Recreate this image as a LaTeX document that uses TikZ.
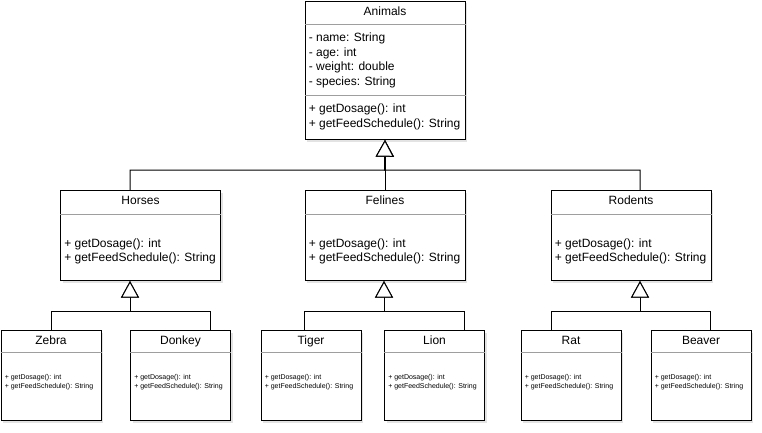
\documentclass[tikz,border=0pt]{standalone}
\usepackage{fontspec}
\setmainfont{Liberation Sans}
\usetikzlibrary{arrows.meta,calc,shadows}
\begin{document}
\begin{tikzpicture}[x=0.75pt,y=-0.75pt]
\tikzset{
  cls/.style={draw=black, fill=white, line width=0.75pt, anchor=north west, inner sep=0pt,
    minimum height=90*0.75pt,
    drop shadow={shadow xshift=1.6pt, shadow yshift=-1.6pt, opacity=0.18, fill=black!60}},
  sepline/.style={draw=black!38, line width=0.75pt},
  gen/.style={line width=0.75pt, -{Triangle[open, length=12.5pt, width=13.5pt, fill=white]}},
  lbl/.style={inner sep=0pt, font=\fontsize{9}{11}\selectfont, text height=6.45pt, text depth=0pt},
  lblw/.style={lbl, anchor=west},
  small/.style={inner sep=0pt, font=\fontsize{5.25}{6}\selectfont, text height=3.76pt, text depth=0pt, anchor=west},
}
\useasboundingbox (0,0) rectangle (762,432);

% ---------- boxes ----------
\node[cls, minimum width=160*0.75pt, minimum height=138.5*0.75pt] (animals) at (304.5,0.5) {};
\node[cls, minimum width=160*0.75pt] (horses) at (60,190) {};
\node[cls, minimum width=160*0.75pt] (felines) at (304.5,190) {};
\node[cls, minimum width=160*0.75pt] (rodents) at (550.5,190) {};
\node[cls, minimum width=100*0.75pt] (zebra) at (0.5,330) {};
\node[cls, minimum width=100*0.75pt] (donkey) at (130,330) {};
\node[cls, minimum width=100*0.75pt] (tiger) at (260.5,330) {};
\node[cls, minimum width=100*0.75pt] (lion) at (384,330) {};
\node[cls, minimum width=100*0.75pt] (rat) at (520.5,330) {};
\node[cls, minimum width=100*0.75pt] (beaver) at (650.5,330) {};

% ---------- separators ----------
\draw[sepline] ($(animals.north west)+(0,23.5)$) -- ($(animals.north east)+(0,23.5)$);
\draw[sepline] ($(animals.north west)+(0,94.5)$) -- ($(animals.north east)+(0,94.5)$);
\foreach \b in {horses,felines,rodents}{
  \draw[sepline] ($(\b.north west)+(0,24)$) -- ($(\b.north east)+(0,24)$);
}
\foreach \b in {zebra,donkey,tiger,lion,rat,beaver}{
  \draw[sepline] ($(\b.north west)+(0,22)$) -- ($(\b.north east)+(0,22)$);
}

% ---------- texts: Animals ----------
\node[lbl] (animalsT) at ($(animals.north)+(0,10.5)$) {Animals};
\node[lblw] (a1) at ($(animals.north west)+(4,37)$) {- name: String};
\node[lblw] (a2) at ($(animals.north west)+(4,51.5)$) {- age: int};
\node[lblw] (a3) at ($(animals.north west)+(4,66)$) {- weight: double};
\node[lblw] (a4) at ($(animals.north west)+(4,80.5)$) {- species: String};
\node[lblw] (a5) at ($(animals.north west)+(4,108)$) {+ getDosage(): int};
\node[lblw] (a6) at ($(animals.north west)+(4,122.5)$) {+ getFeedSchedule(): String};

% ---------- texts: middle level ----------
\foreach \b/\t in {horses/Horses,felines/Felines,rodents/Rodents}{
  \node[lbl] (\b T) at ($(\b.north)+(0,10.5)$) {\t};
  \node[lblw] (\b M1) at ($(\b.north west)+(4,53)$) {+ getDosage(): int};
  \node[lblw] (\b M2) at ($(\b.north west)+(4,67)$) {+ getFeedSchedule(): String};
}

% ---------- texts: leaves ----------
\foreach \b/\t in {zebra/Zebra,donkey/Donkey,tiger/Tiger,lion/Lion,rat/Rat,beaver/Beaver}{
  \node[lbl] (\b T) at ($(\b.north)+(0,10.5)$) {\t};
  \node[small] (\b M1) at ($(\b.north west)+(4,47)$) {+ getDosage(): int};
  \node[small] (\b M2) at ($(\b.north west)+(4,56)$) {+ getFeedSchedule(): String};
}

% ---------- junction coordinates ----------
\coordinate (topj) at (384.5,170);
\coordinate (hx) at (130,0);
\coordinate (rx) at (640,0);
\coordinate (hj) at (130,311);
\coordinate (fj) at (384,311);
\coordinate (rj) at (640,311);
\coordinate (dx) at (210,0);
\coordinate (tx) at (304.5,0);
\coordinate (lx) at (464,0);
\coordinate (ratx) at (551,0);
\coordinate (bx) at (710.5,0);

% ---------- generalisation connectors ----------
\draw[gen] (horses.north -| hx) |- (topj) -- (animals.south);
\draw[gen] (felines.north) -- (animals.south);
\draw[gen] (rodents.north -| rx) |- (topj) -- (animals.south);

\draw[gen] (zebra.north) |- (hj) -- (horses.south -| hj);
\draw[gen] (donkey.north -| dx) |- (hj) -- (horses.south -| hj);

\draw[gen] (tiger.north -| tx) |- (fj) -- (felines.south -| fj);
\draw[gen] (lion.north -| lx) |- (fj) -- (felines.south -| fj);

\draw[gen] (rat.north -| ratx) |- (rj) -- (rodents.south -| rj);
\draw[gen] (beaver.north -| bx) |- (rj) -- (rodents.south -| rj);
\end{tikzpicture}
\end{document}
